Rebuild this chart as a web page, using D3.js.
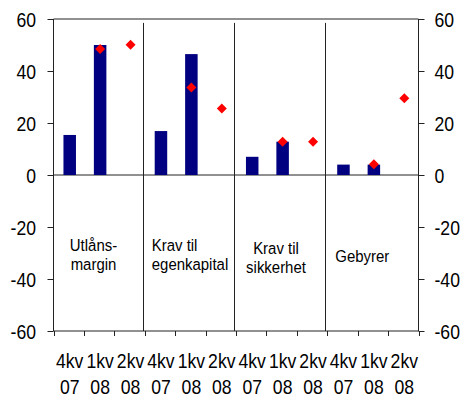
<!DOCTYPE html>
<html>
<head>
<meta charset="utf-8">
<script src="https://cdn.jsdelivr.net/npm/d3@7"></script>
<style>
  body { margin: 0; background: #fff; }
  text { font-family: "Liberation Sans", Arial, sans-serif; fill: #000; }
</style>
</head>
<body>
<svg width="466" height="400"></svg>
<script>
// Chart data.
let quarters = ["4kv 07", "1kv 08", "2kv 08"];
let groups = ["Utlåns-margin", "Krav til egenkapital", "Krav til sikkerhet", "Gebyrer"];
let group_lines = [["Utlåns-", "margin"], ["Krav til", "egenkapital"], ["Krav til", "sikkerhet"], ["Gebyrer"]];
let bar_values = [15.4, 50.0, null, 16.9, 46.5, null, 7.0, 12.8, null, 4.0, 4.0, null];
let diamond_values = [null, 48.5, 50.1, null, 33.7, 25.6, null, 12.8, 12.8, null, 4.1, 29.5];
let y_ticks = [-60, -40, -20, 0, 20, 40, 60];

// Flat list of categories, one per group and quarter.
let categories = [];
groups.forEach(function (g, gi) {
    quarters.forEach(function (q, qi) {
        categories.push({ id: gi * 3 + qi, group: gi, quarter: q });
    });
});

// Graphical parameters.
let svg = d3.select("svg");
let plot_left = 53.5, plot_right = 418.5, plot_top = 19, plot_bottom = 331;
let squeeze = 0.88; // the original font is narrower than Liberation Sans

let x = d3.scaleBand().domain(categories.map(function (c) { return c.id; })).range([plot_left, plot_right]);
let y = d3.scaleLinear().domain([-60, 60]).range([plot_bottom, plot_top]);

let line_colour = "#222";

// Plain hyphen for negatives, like the original.
let fmt = function (d) { return d < 0 ? "-" + Math.abs(d) : String(d); };

// Place a text at (tx, ty), squeezed horizontally.
let narrow = function (sel, tx, ty) {
    return sel.attr("transform", "translate(" + tx + "," + ty + ") scale(" + squeeze + ",1)");
};

// Top border and zero line.
svg.append("line").attr("x1", plot_left).attr("x2", plot_right).attr("y1", y(60)).attr("y2", y(60))
    .style("stroke", line_colour);
svg.append("line").attr("x1", plot_left).attr("x2", plot_right).attr("y1", y(0)).attr("y2", y(0))
    .style("stroke", line_colour);

// Vertical group separators (sit a little left of the axis ticks in the original).
for (let gi = 1; gi < groups.length; gi++) {
    let sx = Math.round(x(gi * 3) - 2) + 0.5;
    svg.append("line").attr("x1", sx).attr("x2", sx).attr("y1", y(58.5)).attr("y2", y(-60))
        .style("stroke", line_colour);
}

// Left and right axes.
let left_axis = d3.axisLeft(y).tickValues(y_ticks).tickSize(6).tickFormat(fmt);
let right_axis = d3.axisRight(y).tickValues(y_ticks).tickSize(6).tickFormat(fmt);

let gl = svg.append("g").attr("transform", "translate(" + plot_left + ",0)").call(left_axis);
let gr = svg.append("g").attr("transform", "translate(" + plot_right + ",0)").call(right_axis);
[[gl, -17.5], [gr, 16]].forEach(function (pair) {
    let g = pair[0];
    g.attr("font-family", null).attr("font-size", null);
    g.select(".domain").attr("d", "M0," + y(60) + "V" + y(-60)).style("stroke", line_colour);
    g.selectAll(".tick line").style("stroke", line_colour);
    let t = g.selectAll(".tick text").attr("x", null).attr("dy", "0.36em").style("font-size", "20px");
    narrow(t, pair[1], 0);
});

// Bottom axis line with ticks at category boundaries.
svg.append("line").attr("x1", plot_left).attr("x2", plot_right).attr("y1", y(-60)).attr("y2", y(-60))
    .style("stroke", line_colour);
svg.selectAll(".btick").data(categories.concat([{ id: categories.length }]))
    .enter().append("line")
    .attr("class", "btick")
    .attr("x1", function (c) { let v = c.id < categories.length ? x(c.id) : plot_right; return Math.round(v) + 0.5; })
    .attr("x2", function (c) { let v = c.id < categories.length ? x(c.id) : plot_right; return Math.round(v) + 0.5; })
    .attr("y1", y(-60)).attr("y2", y(-60) + 5)
    .style("stroke", line_colour);

// Category labels, two lines each.
let cat_labels = svg.selectAll(".catlabel").data(categories).enter().append("text")
    .attr("class", "catlabel")
    .attr("text-anchor", "middle")
    .style("font-size", "20px")
    .attr("transform", function (c) {
        return "translate(" + (x(c.id) + x.bandwidth() / 2 + 1) + ",0) scale(" + squeeze + ",1)";
    });
cat_labels.append("tspan")
    .attr("x", 0)
    .attr("y", 368)
    .text(function (c) { return c.quarter.split(" ")[0]; });
cat_labels.append("tspan")
    .attr("x", 0)
    .attr("y", 394)
    .text(function (c) { return c.quarter.split(" ")[1]; });

// Bars.
let bar_width = 12.5;
svg.selectAll(".bar").data(categories.filter(function (c) { return bar_values[c.id] != null; }))
    .enter().append("rect")
    .attr("class", "bar")
    .attr("x", function (c) { return x(c.id) + x.bandwidth() / 2 - bar_width / 2 + 1; })
    .attr("width", bar_width)
    .attr("y", function (c) { return y(bar_values[c.id]); })
    .attr("height", function (c) { return y(0) - y(bar_values[c.id]); })
    .style("fill", "#000080");

// Diamonds.
let diamond = d3.symbol().type(d3.symbolSquare).size(50);
svg.selectAll(".dot").data(categories.filter(function (c) { return diamond_values[c.id] != null; }))
    .enter().append("path")
    .attr("class", "dot")
    .attr("d", diamond)
    .attr("transform", function (c) {
        return "translate(" + (x(c.id) + x.bandwidth() / 2 + 1) + "," + y(diamond_values[c.id]) + ") rotate(45)";
    })
    .style("fill", "#ff0000");

// Group labels inside the plot.
let label_pos = [
    { dx: 40, anchor: "middle", ys: [251, 270] },
    { dx: 7, anchor: "start", ys: [251, 270] },
    { dx: 40, anchor: "middle", ys: [254, 273] },
    { dx: 35, anchor: "middle", ys: [262] }
];
group_lines.forEach(function (lines, gi) {
    let t = svg.append("text")
        .attr("text-anchor", label_pos[gi].anchor)
        .style("font-size", "17px");
    narrow(t, x(gi * 3) + label_pos[gi].dx, 0);
    lines.forEach(function (ln, li) {
        t.append("tspan")
            .attr("x", 0)
            .attr("y", label_pos[gi].ys[li])
            .text(ln);
    });
});
</script>
</body>
</html>
